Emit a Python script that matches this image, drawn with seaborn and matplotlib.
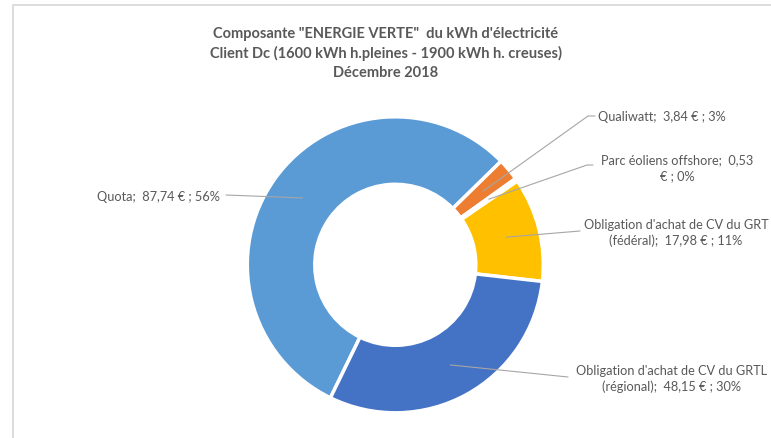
import numpy as np
import seaborn as sns
import matplotlib.pyplot as plt
from matplotlib.patches import Rectangle

# data
labels = ["Quota", "Qualiwatt", "Parc éoliens offshore",
          "Obligation d'achat de CV du GRT (fédéral)",
          "Obligation d'achat de CV du GRTL (régional)"]
values = [87.74, 3.84, 0.53, 17.98, 48.15]
colors = ["#5B9BD5", "#ED7D31", "#A5A5A5", "#FFC000", "#4472C4"]
label_texts = ["Quota;  87,74 € ; 56%",
               "Qualiwatt;  3,84 € ; 3%",
               "Parc éoliens offshore;  0,53\n€ ; 0%",
               "Obligation d'achat de CV du GRT\n(fédéral);  17,98 € ; 11%",
               "Obligation d'achat de CV du GRTL\n(régional);  48,15 € ; 30%"]

sns.set_theme(style="white")
plt.rcParams["font.family"] = ["Lato", "DejaVu Sans"]

W, H = 771, 439
fig = plt.figure(figsize=(W / 100, H / 100), dpi=100)
ax = fig.add_axes([0, 0, 1, 1])

def py(y):
    # pixel from top -> data y
    return H - y

cx, cy = 395.3, py(265.8)
R = 148
ring = 67.5

wedges, _ = ax.pie(values, colors=colors, startangle=-116, counterclock=False,
                   radius=R, center=(cx, cy),
                   wedgeprops=dict(width=ring, edgecolor="white", linewidth=2.5))

ax.set_xlim(0, W)
ax.set_ylim(0, H)
ax.set_aspect("equal")
ax.axis("off")

# frame of the chart area
ax.add_patch(Rectangle((12.5, -10), 800, py(5.5) + 10, fill=False,
                       edgecolor="#d9d9d9", linewidth=1.3))

txt_color = "#595959"
line_color = "#a6a6a6"

ax.text(386, py(27), 'Composante "ENERGIE VERTE"  du kWh d\'électricité\n'
        'Client Dc (1600 kWh h.pleines - 1900 kWh h. creuses)\nDécembre 2018',
        ha="center", va="top", fontsize=10.5, fontweight="bold",
        color=txt_color, linespacing=1.45)

# label layout: text pos, alignment, leader line pts (pixels from top)
layout = [
    dict(xy=(220, 197), ha="right", line=[(226, 196)]),
    dict(xy=(598, 117), ha="left", line=[(588, 117), (595, 117)]),
    dict(xy=(677, 168), ha="center", line=[(587, 166), (593, 166)]),
    dict(xy=(676, 233), ha="center", line=[(580, 232)]),
    dict(xy=(672, 379), ha="center", line=[(568, 378)]),
]

r_mid = R - ring / 2
for w, txt, lay in zip(wedges, label_texts, layout):
    ang = np.deg2rad((w.theta1 + w.theta2) / 2)
    ax_ = cx + r_mid * np.cos(ang)
    ay_ = cy + r_mid * np.sin(ang)
    xs = [ax_] + [p[0] for p in lay["line"]]
    ys = [ay_] + [py(p[1]) for p in lay["line"]]
    ax.plot(xs, ys, color=line_color, linewidth=0.8)
    ax.text(lay["xy"][0], py(lay["xy"][1]), txt, ha=lay["ha"], va="center",
            fontsize=9.2, color=txt_color, linespacing=1.4, multialignment="center")

fig.savefig("out.png", dpi=100)
